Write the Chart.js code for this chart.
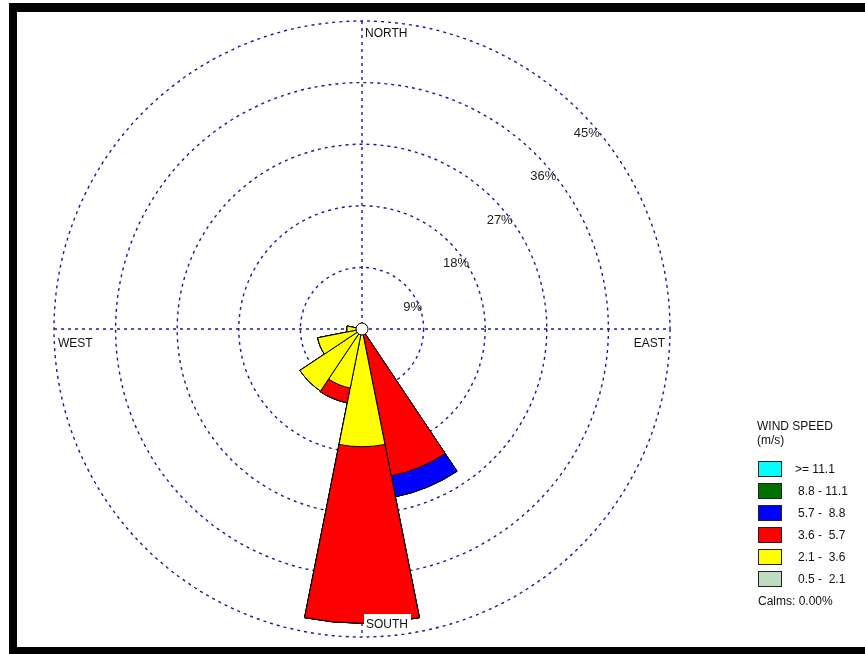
<!DOCTYPE html>
<html>
<head>
<meta charset="utf-8">
<title>Wind rose</title>
<script src="https://cdn.jsdelivr.net/npm/chart.js@4.4.1/dist/chart.umd.min.js"></script>
<style>
    body { margin: 0; background: #fff; }
    #frame {
        position: absolute; left: 9px; top: 3px; right: 0; bottom: 0;
        border-left: 8px solid #000; border-top: 9px solid #000; border-bottom: 7px solid #000;
        box-sizing: border-box;
    }
    #rose { position: absolute; left: 0; top: 0; }
</style>
</head>
<body>
<div id="frame"></div>
<canvas id="rose" width="865" height="654"></canvas>
<script>
// Directions (clockwise from north)
const directions = ['N', 'NNE', 'NE', 'ENE', 'E', 'ESE', 'SE', 'SSE', 'S', 'SSW', 'SW', 'WSW', 'W', 'WNW', 'NW', 'NNW'];

// Wind speed classes, inner to outer
const speedBins = ['0.5 -  2.1', '2.1 -  3.6', '3.6 -  5.7', '5.7 -  8.8', '8.8 - 11.1', '>= 11.1'];
const binColors = ['#c0dcc0', '#ffff00', '#ff0000', '#0000ff', '#007000', '#00ffff'];

// Frequency (%) of each class per direction
const calm05 = [0, 0, 0, 0, 0, 0, 0, 0.3, 0.4, 0.3, 0.4, 0.3, 0.2, 0, 0, 0];
const spd21  = [0, 0, 0, 0, 0, 0, 0, 0.5, 16.8, 8.5, 10.5, 6.3, 2.0, 0, 0, 0];
const spd36  = [0, 0, 0, 0, 0, 0, 0, 21.1, 25.8, 2.2, 0, 0, 0, 0, 0, 0];
const spd57  = [0, 0, 0, 0, 0, 0, 0, 3.1, 0, 0, 0, 0, 0, 0, 0, 0];
const spd88  = [0, 0, 0, 0, 0, 0, 0, 0, 0, 0, 0, 0, 0, 0, 0, 0];
const spd111 = [0, 0, 0, 0, 0, 0, 0, 0, 0, 0, 0, 0, 0, 0, 0, 0];

const ringTicks = [0, 9, 18, 27, 36, 45];
const calmsText = 'Calms: 0.00%';

const classValues = [calm05, spd21, spd36, spd57, spd88, spd111];

// stacked petals: cumulative totals, inner class drawn on top (dataset 0)
let running = directions.map(() => 0);
const datasets = classValues.map((vals, k) => {
    running = running.map((v, i) => v + vals[i]);
    return {
        label: speedBins[k],
        data: running.slice(),
        backgroundColor: binColors[k],
        borderColor: '#000',
        borderWidth: 1
    };
});

const FONT = '"Liberation Sans", Arial, sans-serif';
const GRID = '#1a1a96';
const DASH = [3, 4];

const roseDecor = {
    id: 'roseDecor',
    beforeDatasetsDraw(chart) {
        const s = chart.scales.r;
        const c = chart.ctx;
        const cx = s.xCenter, cy = s.yCenter, R = s.drawingArea;
        c.save();
        c.strokeStyle = GRID;
        c.lineWidth = 1.4;
        c.setLineDash(DASH);
        c.beginPath();
        c.moveTo(cx, cy - R); c.lineTo(cx, cy + R);
        c.moveTo(cx - R, cy); c.lineTo(cx + R, cy);
        c.stroke();
        c.restore();
    },
    afterDatasetsDraw(chart) {
        const s = chart.scales.r;
        const c = chart.ctx;
        const cx = s.xCenter, cy = s.yCenter, R = s.drawingArea;
        c.save();
        // calm circle
        c.beginPath();
        c.arc(cx, cy, 6, 0, Math.PI * 2);
        c.fillStyle = '#fff';
        c.fill();
        c.strokeStyle = '#000';
        c.lineWidth = 1;
        c.stroke();

        // compass labels
        c.font = '12px ' + FONT;
        c.fillStyle = '#111';
        c.textBaseline = 'alphabetic';
        c.textAlign = 'left';
        c.fillText('NORTH', cx + 3, cy - R + 16);
        c.fillStyle = '#fff';
        c.fillRect(cx + 2, cy + R - 23, 47, 14);
        c.fillStyle = '#111';
        c.fillText('SOUTH', cx + 4, cy + R - 9);
        c.fillText('WEST', cx - R + 4, cy + 18);
        c.textAlign = 'right';
        c.fillText('EAST', cx + R - 5, cy + 18);

        // ring labels along the NE diagonal
        c.font = '13px ' + FONT;
        c.fillStyle = '#222';
        c.textAlign = 'center';
        c.textBaseline = 'middle';
        s.ticks.forEach(t => {
            if (t.value === 0) return;
            const r = s.getDistanceFromCenterForValue(t.value);
            c.fillText(t.value + '%', cx + r * Math.SQRT1_2 + 7, cy - r * Math.SQRT1_2 + 22);
        });
        c.restore();
    },
    afterDraw(chart) {
        const c = chart.ctx;
        const lx = 758, top = 461, step = 22;
        c.save();
        c.font = '12px ' + FONT;
        c.fillStyle = '#111';
        c.textAlign = 'left';
        c.textBaseline = 'alphabetic';
        c.fillText('WIND SPEED', lx - 1, 430);
        c.fillText('(m/s)', lx - 1, 444);
        c.textBaseline = 'middle';
        for (let k = speedBins.length - 1, row = 0; k >= 0; k--, row++) {
            const y = top + row * step;
            c.fillStyle = binColors[k];
            c.fillRect(lx, y, 24, 16);
            c.strokeStyle = '#222';
            c.lineWidth = 1;
            c.strokeRect(lx + 0.5, y + 0.5, 23, 15);
            c.fillStyle = '#111';
            const txt = speedBins[k];
            c.fillText(txt, txt.startsWith('>') ? 795 : 798, y + 8.5);
        }
        c.fillText(calmsText, lx, 602);
        c.restore();
    }
};

new Chart(document.getElementById('rose'), {
    type: 'polarArea',
    data: { labels: directions, datasets: datasets },
    options: {
        responsive: false,
        animation: false,
        layout: { padding: { left: 54, right: 195, top: 21, bottom: 17 } },
        plugins: { legend: { display: false }, tooltip: { enabled: false } },
        scales: {
            r: {
                min: ringTicks[0],
                max: ringTicks[ringTicks.length - 1],
                startAngle: -11.25,
                ticks: { display: false, stepSize: ringTicks[1] - ringTicks[0] },
                grid: { color: GRID, lineWidth: 1.4, circular: true },
                border: { dash: DASH },
                angleLines: { display: false },
                pointLabels: { display: false }
            }
        }
    },
    plugins: [roseDecor]
});
</script>
</body>
</html>
